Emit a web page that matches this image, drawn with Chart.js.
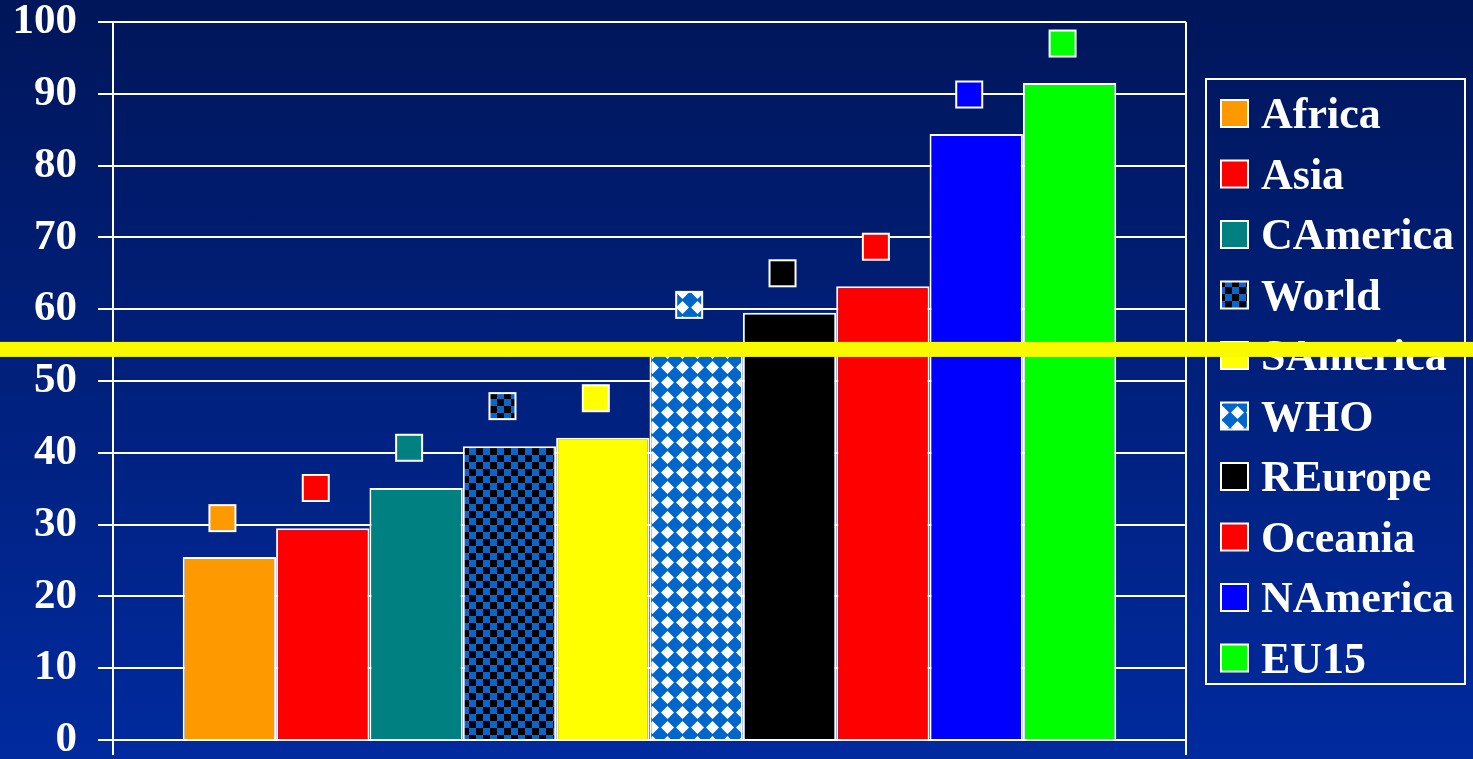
<!DOCTYPE html>
<html>
<head>
<meta charset="utf-8">
<script src="https://cdn.jsdelivr.net/npm/chart.js@4/dist/chart.umd.min.js"></script>
<style>
  html, body { margin: 0; padding: 0; }
  body {
    width: 1473px; height: 759px; overflow: hidden;
    background: linear-gradient(to bottom, #00165a, #002a9e);
  }
  canvas { display: block; }
</style>
</head>
<body>
<canvas id="rates-chart" width="1473" height="759"></canvas>
<script>
// Regions, bar heights and the higher values shown as square markers
const regions = ['Africa', 'Asia', 'CAmerica', 'World', 'SAmerica', 'WHO', 'REurope', 'Oceania', 'NAmerica', 'EU15'];
const barValues = [25.5, 29.5, 35.1, 40.9, 42.1, 55.0, 59.5, 63.2, 84.4, 91.5];
const markerValues = [30.9, 35.1, 40.7, 46.5, 47.6, 60.6, 65.0, 68.7, 89.9, 97.0];
const thresholdValue = 54.4;
const yTicks = [0, 10, 20, 30, 40, 50, 60, 70, 80, 90, 100];

const FONT = "'Liberation Serif', 'Times New Roman', serif";

// Checkerboard fill (black / blue)
function checkerPattern(ctx) {
  const c = document.createElement('canvas');
  c.width = 14; c.height = 14;
  const g = c.getContext('2d');
  g.fillStyle = '#0a66cc';
  g.fillRect(0, 0, 14, 14);
  g.fillStyle = '#000';
  g.fillRect(0, 0, 7, 7);
  g.fillRect(7, 7, 7, 7);
  return ctx.createPattern(c, 'repeat');
}

// Blue fill with white diamonds
function diamondPattern(ctx) {
  const c = document.createElement('canvas');
  c.width = 15; c.height = 15;
  const g = c.getContext('2d');
  g.fillStyle = '#0066cc';
  g.fillRect(0, 0, 15, 15);
  g.fillStyle = '#fff';
  g.beginPath();
  g.moveTo(7.5, 1);
  g.lineTo(14, 7.5);
  g.lineTo(7.5, 14);
  g.lineTo(1, 7.5);
  g.closePath();
  g.fill();
  return ctx.createPattern(c, 'repeat');
}

const canvas = document.getElementById('rates-chart');
const ctx = canvas.getContext('2d');

const fills = [
  '#ff9900', '#ff0000', '#008080', checkerPattern(ctx), '#ffff00',
  diamondPattern(ctx), '#000000', '#ff0000', '#0000ff', '#00ff00'
];

// Square markers drawn above each bar at markerValues
const markerPlugin = {
  id: 'markers',
  afterDatasetsDraw(chart) {
    const c = chart.ctx;
    const yScale = chart.scales.y;
    const size = 26;
    c.save();
    chart.data.datasets.forEach((ds, i) => {
      const bar = chart.getDatasetMeta(i).data[0];
      const x = bar.x - 7;
      const y = yScale.getPixelForValue(markerValues[i]);
      c.fillStyle = ds.backgroundColor;
      c.fillRect(x - size / 2, y - size / 2, size, size);
      c.strokeStyle = '#fff';
      c.lineWidth = 2;
      c.strokeRect(x - size / 2, y - size / 2, size, size);
    });
    c.restore();
  }
};

// Framed legend to the right of the plot
const legendPlugin = {
  id: 'boxLegend',
  afterDraw(chart) {
    const c = chart.ctx;
    const area = chart.chartArea;
    const left = area.right + 20;
    const top = 79;
    const width = 259;
    const height = 605;
    const rowTop = 113;
    const rowStep = 60.5;
    c.save();
    c.strokeStyle = '#fff';
    c.lineWidth = 2;
    c.strokeRect(left, top, width, height);
    c.font = 'bold 44px ' + FONT;
    c.textBaseline = 'alphabetic';
    c.textAlign = 'left';
    chart.data.datasets.forEach((ds, i) => {
      const cy = rowTop + i * rowStep;
      c.fillStyle = ds.backgroundColor;
      c.fillRect(left + 15, cy - 13, 27, 27);
      c.strokeStyle = '#fff';
      c.strokeRect(left + 15, cy - 13, 27, 27);
      c.fillStyle = '#fff';
      c.fillText(ds.label, left + 55, cy + 15);
    });
    c.restore();
  }
};

// Yellow threshold line across the whole picture
const thresholdPlugin = {
  id: 'threshold',
  afterDraw(chart) {
    const c = chart.ctx;
    const y = chart.scales.y.getPixelForValue(thresholdValue);
    c.save();
    c.fillStyle = '#f9f900';
    c.fillRect(0, y - 7.5, chart.width, 15);
    c.restore();
  }
};

new Chart(ctx, {
  type: 'bar',
  data: {
    labels: [''],
    datasets: regions.map((name, i) => ({
      label: name,
      data: [barValues[i]],
      backgroundColor: fills[i],
      borderColor: '#ffffff',
      borderWidth: 2,
      categoryPercentage: 0.87,
      barPercentage: 1
    }))
  },
  options: {
    responsive: false,
    animation: false,
    devicePixelRatio: 1,
    layout: { padding: { top: 22, right: 287, bottom: 0, left: 0 } },
    plugins: {
      legend: { display: false },
      tooltip: { enabled: false }
    },
    scales: {
      x: {
        ticks: { display: false },
        grid: { offset: true, color: '#ffffff', lineWidth: 2, tickLength: 15 },
        border: { display: true, color: '#ffffff', width: 2 },
        afterFit(scale) {
          scale.height = 19;
          scale.paddingLeft = 0;
          scale.paddingRight = 0;
        }
      },
      y: {
        min: 0,
        max: 100,
        afterBuildTicks(scale) {
          scale.ticks = yTicks.map(v => ({ value: v }));
        },
        ticks: {
          color: '#ffffff',
          padding: 21,
          font: { family: FONT, size: 43, weight: 'bold' }
        },
        grid: { color: '#ffffff', lineWidth: 2, tickLength: 15 },
        border: { display: true, color: '#ffffff', width: 2 },
        afterFit(scale) {
          scale.width = 113;
          scale.paddingTop = 0;
          scale.paddingBottom = 0;
        }
      }
    }
  },
  plugins: [markerPlugin, legendPlugin, thresholdPlugin]
});
</script>
</body>
</html>
